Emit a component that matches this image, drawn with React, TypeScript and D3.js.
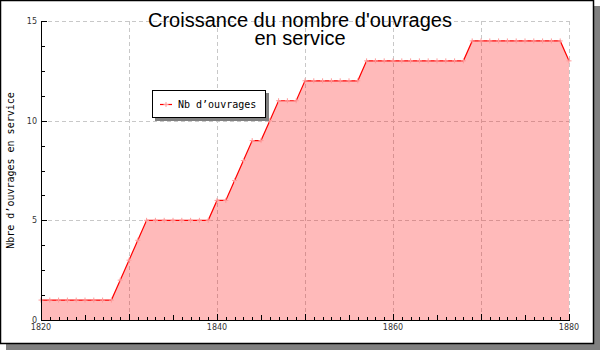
import React from "react";
import * as d3 from "d3";

const years: number[] = d3.range(1820, 1881);
const counts: number[] = [
  1, 1, 1, 1, 1, 1, 1, 1, 1, // 1820-1828
  2, 3, 4, // 1829-1831
  5, 5, 5, 5, 5, 5, 5, 5, // 1832-1839
  6, 6, // 1840-1841
  7, 8, // 1842-1843
  9, 9, // 1844-1845
  10, // 1846
  11, 11, 11, // 1847-1849
  12, 12, 12, 12, 12, 12, 12, // 1850-1856
  13, 13, 13, 13, 13, 13, 13, 13, 13, 13, 13, 13, // 1857-1868
  14, 14, 14, 14, 14, 14, 14, 14, 14, 14, 14, // 1869-1879
  13, // 1880
];
const xTickLabels: number[] = [1820, 1840, 1860, 1880];
const xGrid: number[] = [1830, 1840, 1850, 1860, 1870, 1880];
const yTickLabels: number[] = [0, 5, 10, 15];
const titleLines: string[] = ["Croissance du nombre d'ouvrages", "en service"];
const yTitle = "Nbre d’ouvrages en service";
const legendLabel = "Nb d’ouvrages";

const W = 600;
const H = 350;
const M = { left: 41, right: 569, top: 21, bottom: 320 };

export default function App() {
  const x = d3.scaleLinear().domain([1820, 1880]).range([M.left, M.right]);
  const y = d3.scaleLinear().domain([0, 15]).range([M.bottom, M.top]);
  const data = years.map((yr, i) => ({ yr, v: counts[i] }));
  const line = d3.line<{ yr: number; v: number }>().x((d) => x(d.yr)).y((d) => y(d.v));
  const area = d3
    .area<{ yr: number; v: number }>()
    .x((d) => x(d.yr))
    .y0(y(0))
    .y1((d) => y(d.v));
  const yMinor = d3.range(0, 15.001, 1.25);
  const xMinor = d3.range(1820, 1881, 1);
  const cross = (cx: number, cy: number, s: number, color: string, key: string) => (
    <g key={key} stroke={color} strokeWidth={1}>
      <line x1={cx - s} x2={cx + s} y1={cy} y2={cy} />
      <line x1={cx} x2={cx} y1={cy - s} y2={cy + s} />
    </g>
  );
  return (
    <svg width={W} height={H} style={{ position: "absolute", left: 0, top: 0 }}>
      <rect x={0} y={0} width={W} height={H} fill="#fff" />
      {/* frame shadow */}
      <rect x={6} y={6} width={594} height={344} fill="#808080" />
      <rect x={0.5} y={0.5} width={593} height={343} fill="#fff" stroke="#000" strokeWidth={1.5} />
      {/* grid */}
      <g stroke="#c8c8c8" strokeDasharray="4,3" strokeWidth={1}>
        {xGrid.map((g) => (
          <line key={"gx" + g} x1={Math.round(x(g)) + 0.5} x2={Math.round(x(g)) + 0.5} y1={M.top} y2={M.bottom} />
        ))}
        {yTickLabels.filter((t) => t > 0).map((t) => (
          <line key={"gy" + t} x1={M.left} x2={M.right} y1={Math.round(y(t)) + 0.5} y2={Math.round(y(t)) + 0.5} />
        ))}
      </g>
      {/* area */}
      <path d={area(data) || ""} fill="rgba(255,0,0,0.27)" />
      <path d={line(data) || ""} fill="none" stroke="#ff0000" strokeWidth={1.2} />
      {data.map((d, i) => cross(x(d.yr), y(d.v), 2.5, "#ff9a9a", "m" + i))}
      {/* axes */}
      <g stroke="#000" strokeWidth={1}>
        <line x1={M.left + 0.5} x2={M.left + 0.5} y1={M.top} y2={M.bottom} />
        <line x1={M.left} x2={M.right + 1} y1={M.bottom + 0.5} y2={M.bottom + 0.5} />
        {yMinor.map((t) => {
          const major = yTickLabels.includes(t);
          const yy = Math.round(y(t)) + 0.5;
          return <line key={"yt" + t} x1={M.left} x2={M.left + (major ? 6 : 4)} y1={yy} y2={yy} />;
        })}
        {xMinor.map((t) => {
          const len = t % 10 === 0 ? 6 : t % 5 === 0 ? 5 : 3;
          const xx = Math.round(x(t)) + 0.5;
          return <line key={"xt" + t} x1={xx} x2={xx} y1={M.bottom} y2={M.bottom - len} />;
        })}
      </g>
      {/* tick labels */}
      <g fontFamily="DejaVu Sans" fontSize={8} fill="#333">
        {xTickLabels.map((t) => (
          <text key={"xl" + t} x={x(t)} y={M.bottom + 10} textAnchor="middle">
            {t}
          </text>
        ))}
        {yTickLabels.map((t) => (
          <text key={"yl" + t} x={M.left - 4} y={y(t) + 3} textAnchor="end">
            {t}
          </text>
        ))}
      </g>
      {/* y axis title */}
      <text
        transform={`translate(14,${(M.top + M.bottom) / 2}) rotate(-90)`}
        textAnchor="middle"
        fontFamily="DejaVu Sans Mono"
        fontSize={10}
        fill="#000"
      >
        {yTitle}
      </text>
      {/* title */}
      <g fontFamily="Liberation Sans" fontSize={20} fill="#000" textAnchor="middle">
        {titleLines.map((t, i) => (
          <text key={"t" + i} x={300} y={27 + i * 17.5}>
            {t}
          </text>
        ))}
      </g>
      {/* legend */}
      <rect x={155} y={93} width={114} height={28} fill="#808080" />
      <rect x={152.5} y={90.5} width={113} height={27} fill="#fff" stroke="#000" strokeWidth={1} />
      <line x1={160} x2={172} y1={104.5} y2={104.5} stroke="#ff0000" strokeWidth={1.2} />
      {cross(166, 104.5, 2.5, "#ff9a9a", "lm")}
      <text x={178} y={108} fontFamily="DejaVu Sans Mono" fontSize={10} fill="#000">
        {legendLabel}
      </text>
    </svg>
  );
}
